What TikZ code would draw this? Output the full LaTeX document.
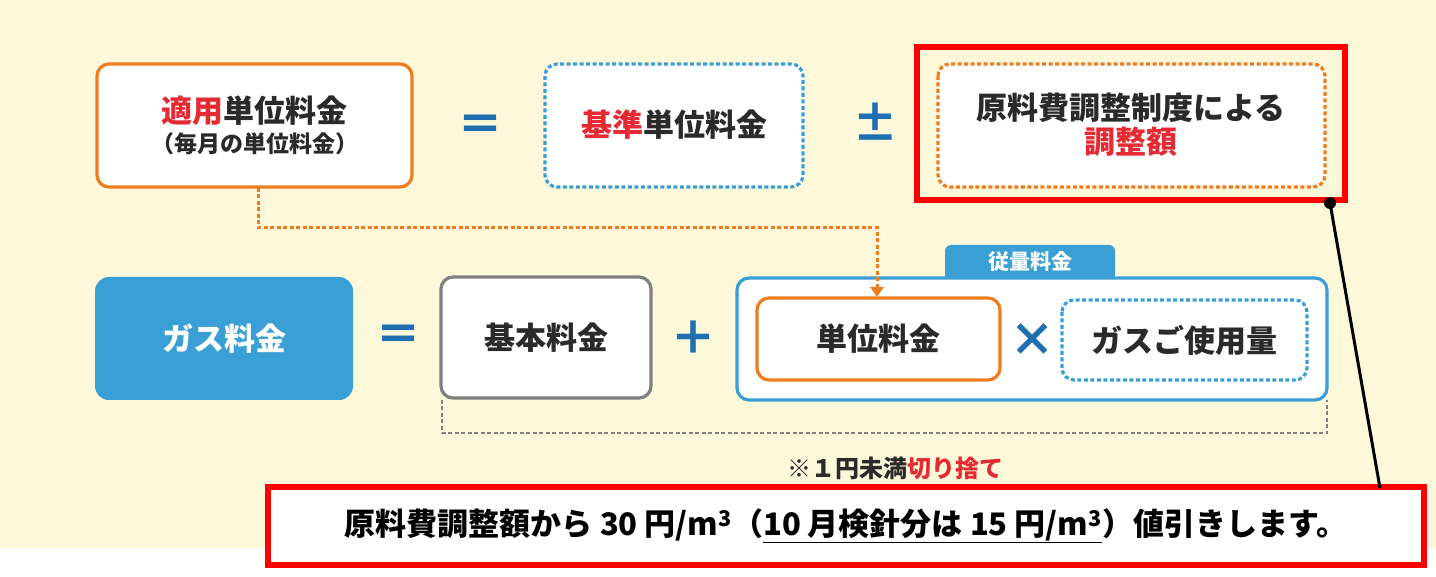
\documentclass[tikz,border=0pt]{standalone}
\usepackage{fontspec}
\setmainfont{Noto Sans CJK JP}
\usetikzlibrary{arrows.meta}
\definecolor{cream}{HTML}{FEF8DA}
\definecolor{org}{HTML}{EE7D1F}
\definecolor{sky}{HTML}{3A9FD5}
\definecolor{dblue}{HTML}{1D6FB0}
\definecolor{rd}{HTML}{E52A34}
\definecolor{txt}{HTML}{2A2A2A}
\begin{document}
\begin{tikzpicture}[x=1pt,y=-1pt,
 box/.style={rounded corners=12pt,fill=white,line width=3.2pt},
 op/.style={text=dblue,font=\fontsize{46}{46}\selectfont\bfseries},
 lab/.style={text=txt,font=\fontsize{31}{36}\selectfont\bfseries,align=center}]
\fill[cream] (0,0) rectangle (1436,577);
\fill[white] (0,548) rectangle (1436,577);
\useasboundingbox (0,0) rectangle (1436,577);
% top row
\draw[box,draw=org] (97,64) rectangle (412,187);
\node[lab] (ap) at (254.5,125) {\textcolor{rd}{適用}単位料金\\[-6pt]{\fontsize{23}{26}\selectfont（毎月の単位料金）}};
\node[op] (eq1) at (480,128) {＝};
\draw[box,draw=sky,dash pattern=on 4pt off 2.5pt] (545,64) rectangle (803,187);
\node[lab] (kj) at (674,125) {\textcolor{rd}{基準}単位料金};
\node[op] (pm) at (875,122) {±};
\draw[box,draw=org,dash pattern=on 4pt off 2.5pt] (938,64) rectangle (1325,187);
\node[lab] (ch) at (1131,125) {原料費調整制度による\\[-2pt]\textcolor{rd}{調整額}};
\draw[red,line width=6pt] (917,47) rectangle (1345,200);
% second row
\fill[sky,rounded corners=6pt] (945,245) rectangle (1115,290);
\node[text=white,font=\fontsize{21}{24}\selectfont\bfseries] (jr) at (1030,262) {従量料金};
\draw[box,draw=sky] (737,278) rectangle (1327,400);
\fill[sky,rounded corners=14pt] (95,277) rectangle (353,400);
\node[text=white,font=\fontsize{31}{36}\selectfont\bfseries] (gr) at (224,339) {ガス料金};
\node[op] (eq2) at (398,338) {＝};
\draw[box,draw=gray] (441,277) rectangle (651,398);
\node[lab] (kh) at (546,338) {基本料金};
\node[op] (pl) at (693,338) {＋};
\draw[box,draw=org] (757,298) rectangle (1000,380);
\node[lab] (tk) at (878.5,339) {単位料金};
\node[op] (tm) at (1032,340) {×};
\draw[box,draw=sky,dash pattern=on 4pt off 2.5pt] (1062,300) rectangle (1307,380);
\node[lab] (gs) at (1184.5,340) {ガスご使用量};
% connector
\coordinate (a1) at (258,188);
\coordinate (a2) at (877,297);
\draw[org,line width=3pt,dash pattern=on 4pt off 2.5pt,-{Triangle[length=10pt,width=13pt]}] (a1) |- (877,228) -- (a2);
% bracket
\draw[gray,line width=2.2pt,dash pattern=on 4pt off 2.5pt] (442,400) -- (442,433) -- (1327,433) -- (1327,400);
\node[text=txt,font=\fontsize{24}{28}\selectfont\bfseries] (nt) at (895,468) {※１円未満\textcolor{rd}{切り捨て}};
% bottom box
\draw[red,line width=6pt,fill=white] (268,487) rectangle (1424,565);
\node[text=black,font=\fontsize{31}{34}\selectfont\bfseries] (bt) at (846,526) {原料費調整額から 30 円/m\textsuperscript{3}（\underline{10 月検針分は 15 円/m\textsuperscript{3}}）値引きします。};
% pointer
\fill (1330,203) circle (6pt);
\coordinate (p1) at (1330,203);
\coordinate (p2) at (1380,488);
\draw[line width=3pt] (p1) -- (p2);
\end{tikzpicture}
\end{document}
